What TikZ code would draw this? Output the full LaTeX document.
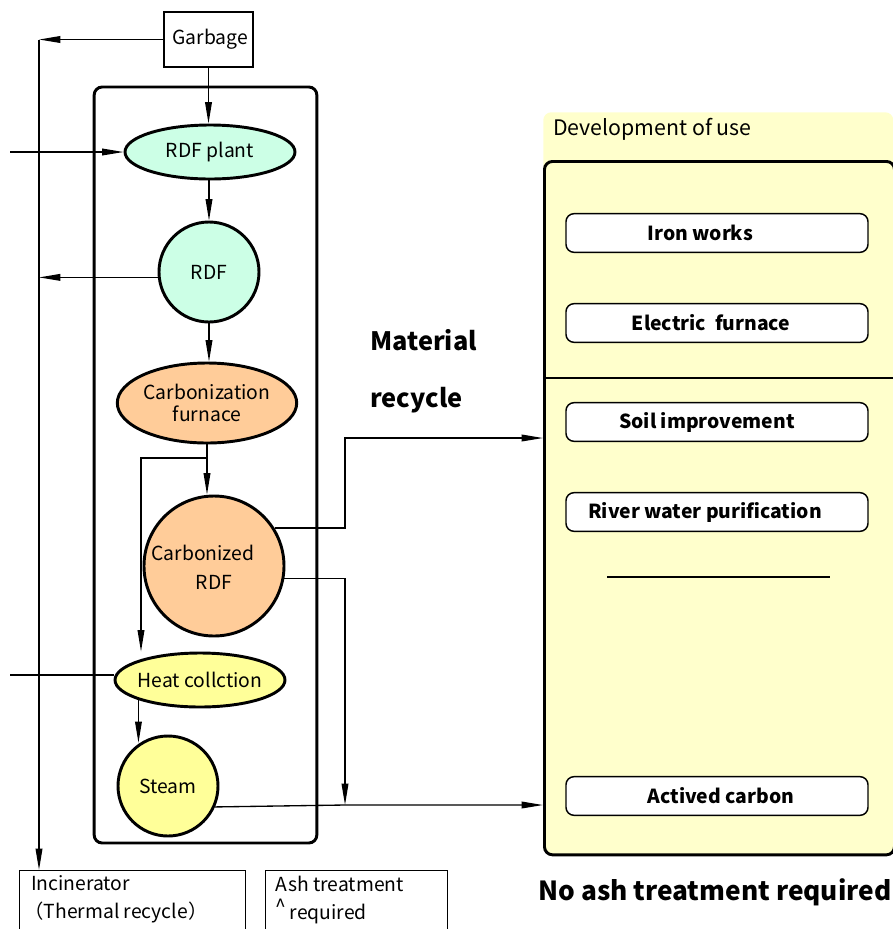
\documentclass[tikz,border=0pt]{standalone}
\usepackage{fontspec}
\setmainfont{Noto Sans CJK JP}
\usetikzlibrary{arrows.meta,positioning,shapes.geometric}
\definecolor{menta}{HTML}{CCFFE6}
\definecolor{laranja}{HTML}{FFCC99}
\definecolor{amarelo}{HTML}{FFFF99}
\definecolor{creme}{HTML}{FFFFCC}

\begin{document}
\begin{tikzpicture}[x=0.75pt, y=-0.75pt,
  elipse/.style={ellipse, draw, line width=2.2pt, inner sep=0pt, align=center,
                 font=\fontsize{14.5}{17}\selectfont},
  circulo/.style={circle, draw, line width=2.2pt, inner sep=0pt, align=center,
                  font=\fontsize{14.5}{17}\selectfont},
  uso/.style={draw, fill=white, rounded corners=6pt, line width=1.1pt,
              minimum width=226.5pt, minimum height=29pt,
              font=\bfseries\fontsize{14.5}{16}\selectfont},
  caixa/.style={draw, line width=1pt, anchor=north west, minimum height=60pt},
  texto/.style={inner sep=0pt, align=left, font=\fontsize{14.5}{21}\selectfont},
  grande/.style={inner sep=0pt, anchor=base west, font=\bfseries\fontsize{19}{22}\selectfont},
  seta/.style={-{Triangle[length=16pt,width=5pt]}, line width=1pt},
  linha/.style={line width=1pt}
]
\useasboundingbox (0,0) rectangle (893,929);
% painel da direita
\node[fill=creme, rounded corners=6pt, anchor=north west, minimum width=262.5pt,
      minimum height=557pt] (fundo) at (543,112) {};
\node[texto, anchor=base west, font=\fontsize{16}{18}\selectfont] (desenv) at (553,135) {Development of use};
\node[draw, line width=2.2pt, rounded corners=6pt, anchor=north west,
      minimum width=262.5pt, minimum height=520pt] (painel) at (543,160) {};
\draw[linha] (painel.west |- 0,378) -- (painel.east |- 0,378);
\node[uso] (u1) at (717,233) {Iron works\hspace*{25pt}};
\node[uso] (u2) at (717,323) {Electric\ \ furnace\hspace*{9pt}};
\node[uso] (u3) at (717,422) {Soil improvement\hspace*{15pt}};
\node[uso] (u4) at (717,512) {River water purification\hspace*{18pt}};
\node[uso] (u5) at (717,796) {\hspace*{6pt}Actived carbon};
\draw[linha] (607,577) -- (830,577);
\node[grande] (mat) at (370,350) {Material};
\node[grande] (rec) at (370,407) {recycle};
\node[grande, font=\bfseries\fontsize{19.7}{22}\selectfont] (semcinza) at (538,900) {No ash treatment required};
% processo
\node[draw, line width=2.2pt, rounded corners=6pt, minimum width=167pt,
      minimum height=567pt] (planta) at (205.5,465) {};
\node[draw, line width=2.2pt, minimum width=66.75pt, minimum height=41.25pt,
      font=\fontsize{14.5}{17}\selectfont] (lixo) at (208.5,39.5) {\,Garbage};
\node[elipse, fill=menta, minimum width=127.5pt, minimum height=40.5pt] (rdfp) at (210,152) {RDF plant};
\node[circulo, fill=menta, minimum size=75pt] (rdf) at (209,272) {RDF};
\node[elipse, fill=laranja, minimum width=132pt, minimum height=60pt] (forno) at (207,403)
  {Carbonization\\furnace};
\node[circulo, fill=laranja, minimum size=105pt] (crdf) at (214,566) {};
\node[texto, font=\fontsize{14.5}{22}\selectfont] (crdft) at (203,567) {Carbonized\\\hspace*{2.3em}RDF};
\node[elipse, fill=amarelo, inner xsep=-4pt, minimum width=127.5pt, minimum height=40.5pt] (calor) at (200,680) {Heat collction};
\node[circulo, fill=amarelo, minimum size=75pt] (vapor) at (168,786) {Steam};
\node[caixa, minimum width=169.5pt] (incin) at (19,870) {};
\node[texto, anchor=north west] (incint) at ([xshift=9pt,yshift=-4pt]incin.north west)
  {Incinerator\\\hspace*{-0.35em}（Thermal recycle）};
\node[caixa, minimum width=136.5pt] (cinza) at (265,870) {};
\node[texto, anchor=north west] (cinzat) at ([xshift=8pt,yshift=-4pt]cinza.north west)
  {Ash treatment\\\raisebox{4pt}{\textasciicircum}\,required};
% pontos auxiliares
\coordinate (esq) at (39,39.5);
\coordinate (e1) at (10,152);
\coordinate (e2) at (10,675);
\coordinate (b1) at (141,458);
\coordinate (m1) at (345,438);
\coordinate (m2) at (345,805);
% ligacoes
\draw[seta] (lixo.west) -- (esq);
\draw[seta] (esq) -- (esq |- incin.north);
\draw[seta] (lixo.south) -- (lixo.south |- rdfp.north);
\draw[seta] (e1) -- (rdfp.west);
\draw[seta] (rdfp.south -| rdf.north) -- (rdf.north);
\draw[seta] (rdf.186) -- (rdf.186 -| esq);
\draw[seta] (rdf.south) -- (forno.north -| rdf.south);
\draw[seta] (forno.south) -- (crdf.north -| forno.south);
\draw[seta] (b1 -| forno.south) -- (b1) -- (b1 |- calor.north);
\draw[linha] (e2) -- (e2 -| calor.west);
\draw[seta] (calor.198) -- (vapor.123 -| calor.198);
\draw[seta] (crdf.32) -| (m1) -- (m1 -| painel.west);
\draw[seta] (crdf.-10) -| (m2);
\draw[seta] (vapor.-24) -- (m2) -- (m2 -| painel.west);
\end{tikzpicture}
\end{document}
